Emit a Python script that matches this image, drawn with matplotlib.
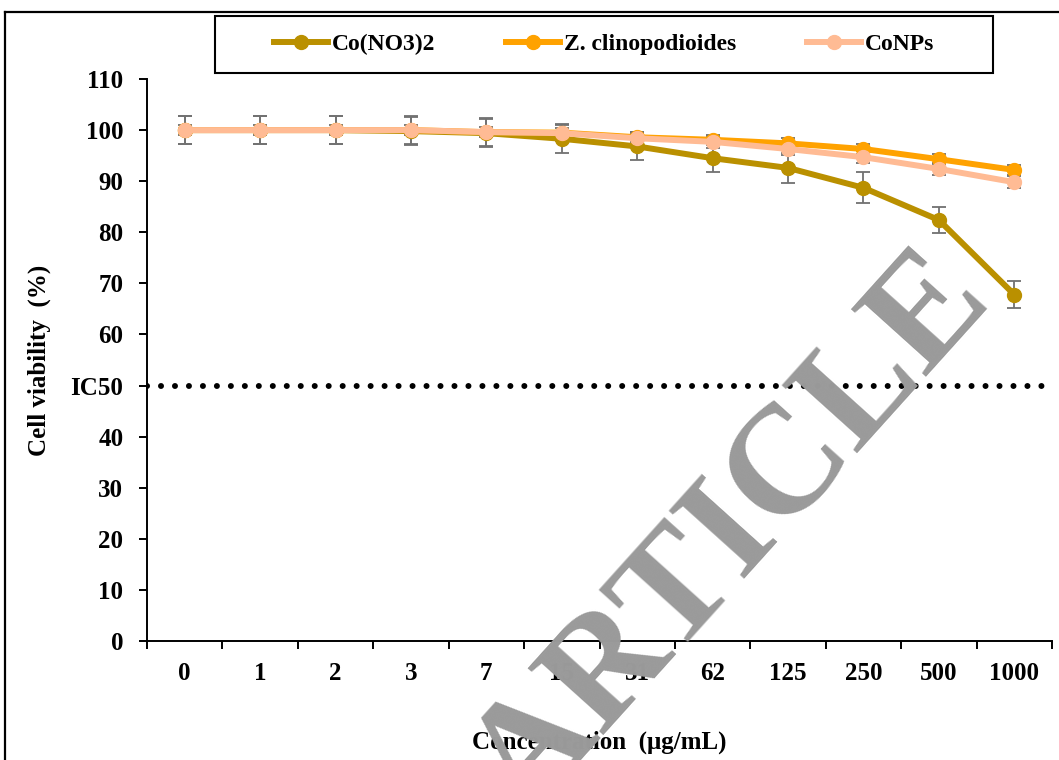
#!/usr/bin/env python3

import matplotlib
matplotlib.use('Agg')
import matplotlib.pyplot as plt
from matplotlib.lines import Line2D
from matplotlib.patches import Rectangle

# Data
conc = ['0', '1', '2', '3', '7', '15', '31', '62', '125', '250', '500', '1000']
co_no3 = [100, 100, 100, 99.8, 99.4, 98.3, 96.8, 94.5, 92.6, 88.7, 82.4, 67.8]
co_no3_err = [2.7, 2.7, 2.7, 2.7, 2.7, 2.8, 2.7, 2.8, 2.9, 3.0, 2.6, 2.6]
z_clino = [100, 100, 100, 100, 99.6, 99.5, 98.6, 98.1, 97.4, 96.3, 94.3, 92.2]
z_clino_err = [1.0, 1.0, 1.0, 1.0, 1.0, 1.0, 1.0, 1.0, 1.0, 1.0, 1.0, 1.0]
conps = [100, 100, 100, 100, 99.6, 99.4, 98.4, 97.7, 96.3, 94.7, 92.4, 89.8]
conps_err = [2.7, 2.7, 2.7, 2.7, 2.7, 1.5, 1.2, 1.2, 1.2, 1.2, 1.2, 1.2]
ic50 = 50

plt.rcParams['font.family'] = ['Liberation Serif', 'DejaVu Serif']
plt.rcParams['font.weight'] = 'bold'
plt.rcParams['axes.labelweight'] = 'bold'

W, H = 1059, 760
fig = plt.figure(figsize=(W / 100, H / 100), dpi=100)
ax = fig.add_axes([147 / W, 1 - 641 / H, (1052 - 147) / W, (641 - 79) / H])

x = list(range(len(conc)))
series = [
    ('Co(NO3)2', co_no3, co_no3_err, '#BA9000'),
    ('Z. clinopodioides', z_clino, z_clino_err, '#FFA200'),
    ('CoNPs', conps, conps_err, '#FFBB94'),
]
handles = []
for name, y, err, col in series:
    ax.errorbar(x, y, yerr=err, fmt='none', ecolor='#717171', elinewidth=1.3,
                capsize=4.7, capthick=1.3, zorder=3)
    h, = ax.plot(x, y, '-o', color=col, lw=4.3, ms=10, label=name, zorder=4)
    handles.append(h)

# IC50 reference line
ax.plot([-0.5, 11.45], [ic50, ic50], color='black', lw=4.3,
        linestyle=(0, (0.01, 2.33)), dash_capstyle='round', zorder=2)

ax.set_xlim(-0.5, 11.5)
ax.set_ylim(0, 110)
ax.set_xticks(x)
ax.set_xticklabels(conc)
ax.set_xticks([i - 0.5 for i in range(len(conc) + 1)], minor=True)
ax.tick_params(axis='x', which='major', length=0, pad=15, labelsize=18)
ax.tick_params(axis='x', which='minor', length=6, width=1.4, direction='out')
ax.set_yticks(range(0, 111, 10))
ax.set_yticklabels(['IC50' if v == 50 else str(v) for v in range(0, 111, 10)])
ax.tick_params(axis='y', length=6, width=1.4, direction='out', labelsize=18, pad=11)
for s in ['top', 'right']:
    ax.spines[s].set_visible(False)
for s in ['left', 'bottom']:
    ax.spines[s].set_linewidth(1.4)

ax.set_xlabel('Concentration  (μg/mL)', fontsize=18, labelpad=33)
ax.set_ylabel('Cell viability  (%)', fontsize=18, labelpad=14)

# legend with its own box
fig.legend(handles=handles, loc='center', bbox_to_anchor=(604 / W, 1 - 44.5 / H),
           ncol=3, frameon=False, fontsize=17, handlelength=2.3,
           handletextpad=0.15, columnspacing=3.0)
fig.patches.append(Rectangle((215 / W, 1 - 73 / H), 778 / W, 57 / H,
                             transform=fig.transFigure, fill=False,
                             edgecolor='black', lw=1.5))

# outer frame
fig.lines.append(Line2D([5 / W, 5 / W], [0, 1 - 12 / H], transform=fig.transFigure,
                        color='black', lw=1.6))
fig.lines.append(Line2D([5 / W, 1], [1 - 12 / H, 1 - 12 / H], transform=fig.transFigure,
                        color='black', lw=1.6))

# watermark
ax.text(760 / W, 1 - 560 / H, 'ARTICLE', transform=fig.transFigure, rotation=48,
        rotation_mode='anchor', ha='center', va='baseline', fontsize=111,
        color='#9A9A9A', fontweight='bold', zorder=2.6, clip_on=False)

fig.savefig('out.png', dpi=100)
